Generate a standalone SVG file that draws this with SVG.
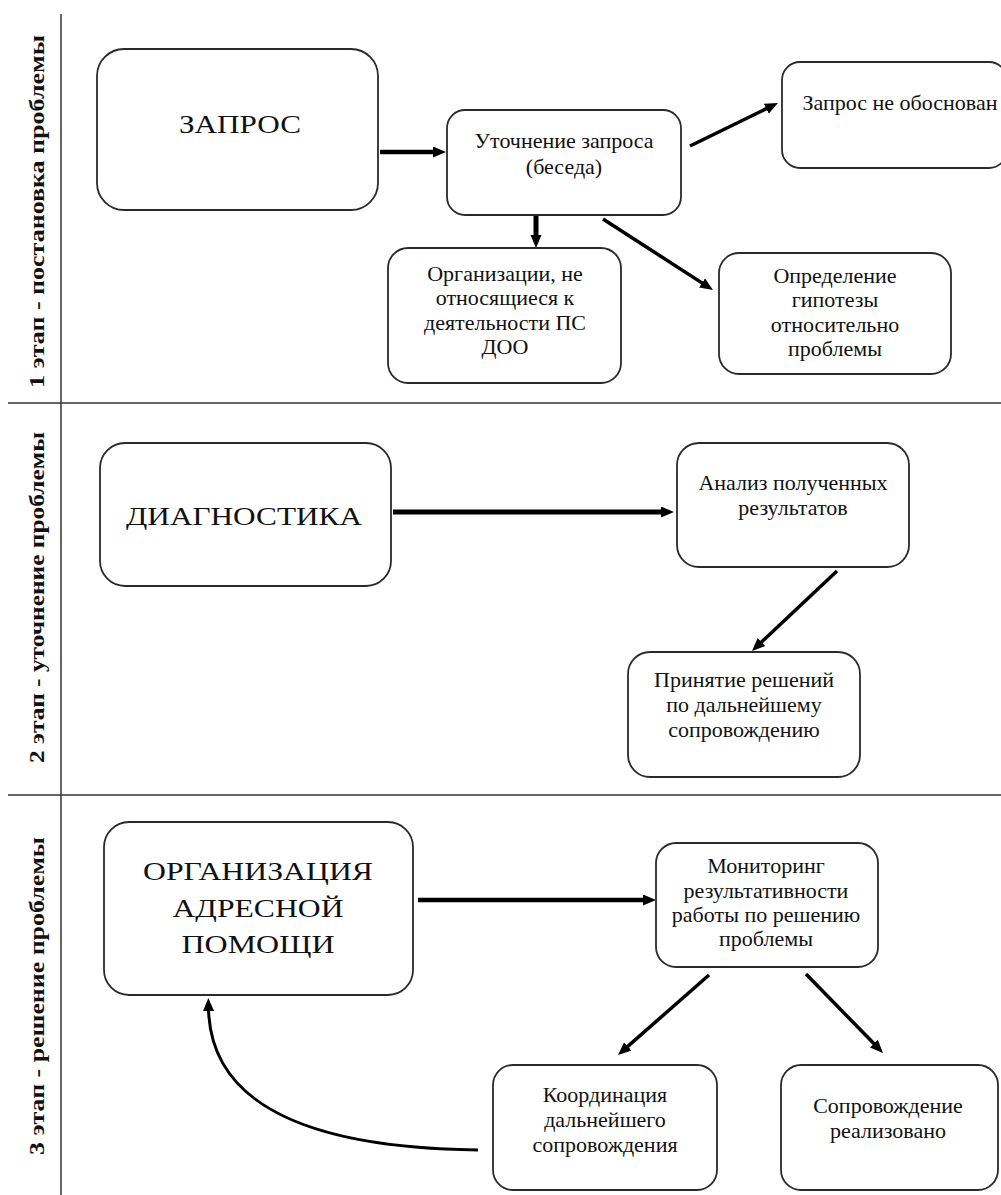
<svg xmlns="http://www.w3.org/2000/svg" width="1001" height="1195" viewBox="0 0 1001 1195">
<style>
.box{fill:#fff;stroke:#2a2a2a;stroke-width:1.8}
.t{font-family:"Liberation Serif","Times New Roman",serif;font-size:22px;fill:#111;text-anchor:middle}
.big{font-family:"Liberation Serif","Times New Roman",serif;font-size:26px;fill:#111;text-anchor:middle}
.lbl{font-family:"Liberation Serif","Times New Roman",serif;font-size:21px;font-weight:bold;fill:#111;text-anchor:middle}
.sep{stroke:#333;stroke-width:1.5;fill:none}
.c{stroke:#000;fill:none}
</style>
<defs>
<marker id="ah" markerUnits="userSpaceOnUse" markerWidth="14" markerHeight="12" refX="3" refY="5.5" orient="auto">
<path d="M0,0 L13,5.5 L0,11 Z" fill="#000"/>
</marker>
</defs>
<rect width="1001" height="1195" fill="#fff"/>
<g id="frame">
<line class="sep" x1="61" y1="14" x2="61" y2="1195"/>
<line class="sep" x1="8" y1="403" x2="1001" y2="403"/>
<line class="sep" x1="8" y1="795" x2="1001" y2="795"/>
<text class="lbl" transform="translate(43.5,211.5) rotate(-90)" textLength="353" lengthAdjust="spacingAndGlyphs">1 этап - постановка проблемы</text>
<text class="lbl" transform="translate(43.5,597.5) rotate(-90)" textLength="331" lengthAdjust="spacingAndGlyphs">2 этап - уточнение проблемы</text>
<text class="lbl" transform="translate(43.5,996) rotate(-90)" textLength="318" lengthAdjust="spacingAndGlyphs">3 этап - решение проблемы</text>
</g>
<g id="connectors">
<line class="c" stroke-width="4.5" x1="380" y1="152" x2="436" y2="152" marker-end="url(#ah)"/>
<line class="c" stroke-width="3.5" x1="690" y1="146" x2="769" y2="107.4" marker-end="url(#ah)"/>
<line class="c" stroke-width="5" x1="536" y1="216" x2="536" y2="238" marker-end="url(#ah)"/>
<line class="c" stroke-width="3.5" x1="603" y1="219" x2="704.6" y2="284.6" marker-end="url(#ah)"/>
<line class="c" stroke-width="5" x1="393" y1="512" x2="664" y2="512" marker-end="url(#ah)"/>
<line class="c" stroke-width="3.5" x1="837" y1="571" x2="759.3" y2="644.1" marker-end="url(#ah)"/>
<line class="c" stroke-width="4.5" x1="418" y1="900" x2="646" y2="900" marker-end="url(#ah)"/>
<line class="c" stroke-width="3.5" x1="709" y1="975" x2="625.5" y2="1048.4" marker-end="url(#ah)"/>
<line class="c" stroke-width="3.5" x1="806" y1="974" x2="876" y2="1045.8" marker-end="url(#ah)"/>
<path class="c" stroke-width="3" d="M478,1150 C300,1148 210,1100 208.5,1008" marker-end="url(#ah)"/>
</g>
<g id="n-zapros">
<rect class="box" x="97" y="49" width="281" height="161" rx="27"/>
<text class="big" x="240" y="133" font-size="25" textLength="122" lengthAdjust="spacingAndGlyphs">ЗАПРОС</text>
</g>
<g id="n-utochnenie">
<rect class="box" x="447" y="110" width="234" height="105" rx="18"/>
<text class="t" x="564" y="148">Уточнение запроса</text>
<text class="t" x="564" y="174">(беседа)</text>
</g>
<g id="n-ne-obosnovan">
<rect class="box" x="782" y="62" width="225" height="106" rx="18"/>
<text class="t" x="900" y="110">Запрос не обоснован</text>
</g>
<g id="n-organizacii">
<rect class="box" x="388" y="248" width="233" height="135" rx="20"/>
<text class="t" x="505" y="281">Организации, не</text>
<text class="t" x="505" y="305">относящиеся к</text>
<text class="t" x="505" y="330">деятельности ПС</text>
<text class="t" x="505" y="354">ДОО</text>
</g>
<g id="n-opredelenie">
<rect class="box" x="719" y="253" width="232" height="121" rx="20"/>
<text class="t" x="835" y="283">Определение</text>
<text class="t" x="835" y="307">гипотезы</text>
<text class="t" x="835" y="332">относительно</text>
<text class="t" x="835" y="356">проблемы</text>
</g>
<g id="n-diagnostika">
<rect class="box" x="100" y="443" width="291" height="143" rx="25"/>
<text class="big" x="244" y="525" textLength="236" lengthAdjust="spacingAndGlyphs">ДИАГНОСТИКА</text>
</g>
<g id="n-analiz">
<rect class="box" x="677" y="443" width="232" height="124" rx="22"/>
<text class="t" x="793" y="490">Анализ полученных</text>
<text class="t" x="793" y="515">результатов</text>
</g>
<g id="n-prinyatie">
<rect class="box" x="628" y="652" width="232" height="125" rx="22"/>
<text class="t" x="744" y="687">Принятие решений</text>
<text class="t" x="744" y="712">по дальнейшему</text>
<text class="t" x="744" y="737">сопровождению</text>
</g>
<g id="n-organizaciya">
<rect class="box" x="104" y="822" width="309" height="173" rx="25"/>
<text class="big" x="258" y="880" font-size="27" textLength="230" lengthAdjust="spacingAndGlyphs">ОРГАНИЗАЦИЯ</text>
<text class="big" x="258" y="917" font-size="27" textLength="171" lengthAdjust="spacingAndGlyphs">АДРЕСНОЙ</text>
<text class="big" x="258" y="953" font-size="27" textLength="153" lengthAdjust="spacingAndGlyphs">ПОМОЩИ</text>
</g>
<g id="n-monitoring">
<rect class="box" x="656" y="843" width="222" height="124" rx="20"/>
<text class="t" x="766" y="873">Мониторинг</text>
<text class="t" x="766" y="898">результативности</text>
<text class="t" x="766" y="922">работы по решению</text>
<text class="t" x="766" y="946">проблемы</text>
</g>
<g id="n-koordinaciya">
<rect class="box" x="493" y="1065" width="224" height="125" rx="20"/>
<text class="t" x="605" y="1102">Координация</text>
<text class="t" x="605" y="1127">дальнейшего</text>
<text class="t" x="605" y="1152">сопровождения</text>
</g>
<g id="n-soprovozhdenie">
<rect class="box" x="781" y="1065" width="217" height="125" rx="20"/>
<text class="t" x="888" y="1113">Сопровождение</text>
<text class="t" x="888" y="1138">реализовано</text>
</g>
</svg>
